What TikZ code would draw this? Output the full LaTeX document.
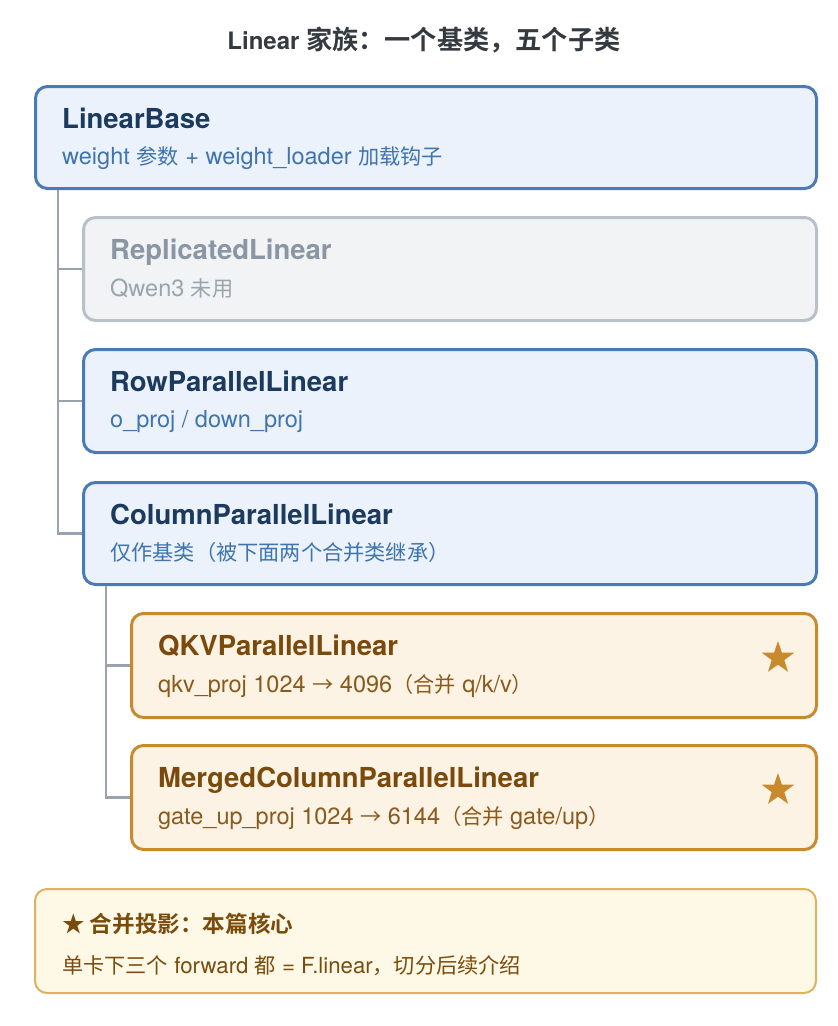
\documentclass[tikz,border=0pt]{standalone}
\usepackage{fontspec}
\setmainfont{TeX Gyre Heros}
\newfontfamily\cjk{Noto Sans CJK SC}[BoldFont={Noto Sans CJK SC Bold}]
\newcommand\zhsz{21.2}
\newcommand\zh[1]{{\cjk\fontsize{\zhsz}{27}\selectfont #1}}
\usetikzlibrary{shapes.geometric}
\definecolor{blueline}{HTML}{4A7BB7}
\definecolor{bluefill}{HTML}{EBF2FB}
\definecolor{bluetitle}{HTML}{1C3A5E}
\definecolor{bluesub}{HTML}{3F74B0}
\definecolor{grayline}{HTML}{B8C0C9}
\definecolor{grayfill}{HTML}{F1F3F5}
\definecolor{graytitle}{HTML}{8A96A3}
\definecolor{graysub}{HTML}{9AA4AE}
\definecolor{orline}{HTML}{C98A2E}
\definecolor{orfill}{HTML}{FDF3E4}
\definecolor{ortitle}{HTML}{7A4A0D}
\definecolor{orsub}{HTML}{8A5A1C}
\definecolor{noteline}{HTML}{DDB35F}
\definecolor{notefill}{HTML}{FEF8E6}
\definecolor{notetext}{HTML}{7A4C0C}
\definecolor{treeline}{HTML}{9AA3AD}
\definecolor{headtext}{HTML}{343A40}
\begin{document}
\begin{tikzpicture}[x=1pt,y=-1pt,
  card/.style={rectangle, rounded corners=12pt, line width=3pt, anchor=north west, inner sep=0pt},
  bluebox/.style={card, draw=blueline, fill=bluefill},
  graybox/.style={card, draw=grayline, fill=grayfill},
  orbox/.style={card, draw=orline, fill=orfill},
  notebox/.style={card, line width=2pt, draw=noteline, fill=notefill},
  ttl/.style={anchor=base west, inner sep=0pt, font=\fontsize{27.5}{32}\selectfont\bfseries},
  sub/.style={anchor=base west, inner sep=0pt, font=\fontsize{23.5}{27}\selectfont},
  tree/.style={draw=treeline, line width=2.5pt},
  starmark/.style={star, star points=5, star point ratio=2.55, fill=orline, minimum size=34pt, inner sep=0pt}
]
\useasboundingbox (0,0) rectangle (838,1026);

\node[anchor=center, inner sep=0pt, text=headtext, font=\fontsize{24}{28}\selectfont\bfseries] (head) at (424,40) {Linear {\cjk\fontsize{26.2}{28}\selectfont 家族：一个基类，五个子类}};

% boxes
\node[bluebox, minimum width=781pt, minimum height=102pt] (lb) at (34,85) {};
\node[graybox, minimum width=733pt, minimum height=103pt] (rep) at (82,216) {};
\node[bluebox, minimum width=733pt, minimum height=103pt] (row) at (82,348) {};
\node[bluebox, minimum width=733pt, minimum height=102pt] (col) at (82,481) {};
\node[orbox, minimum width=685pt, minimum height=104pt] (qkv) at (130,612) {};
\node[orbox, minimum width=685pt, minimum height=104pt] (mer) at (130,744) {};
\node[notebox, minimum width=781pt, minimum height=104pt] (note) at (34,888) {};

% tree connectors
\draw[tree] ([xshift=24pt]lb.south west) |- (rep.west);
\draw[tree] ([xshift=24pt]lb.south west) |- (row.west);
\draw[tree] ([xshift=24pt]lb.south west) |- (col.west);
\draw[tree] ([xshift=24pt]col.south west) |- (qkv.west);
\draw[tree] ([xshift=24pt]col.south west) |- (mer.west);

% texts
\node[ttl, text=bluetitle] (lbt) at (62,128) {LinearBase};
\node[sub, text=bluesub] (lbs) at (62,164) {weight \zh{参数} + weight\_loader \zh{加载钩子}};

\node[ttl, text=graytitle] (rept) at (110,259) {ReplicatedLinear};
\node[sub, text=graysub] (reps) at (110,296) {Qwen3 \zh{未用}};

\node[ttl, text=bluetitle] (rowt) at (110,391) {RowParallelLinear};
\node[sub, text=bluesub] (rows) at (110,427) {o\_proj / down\_proj};

\node[ttl, text=bluetitle] (colt) at (110,524) {ColumnParallelLinear};
\node[sub, text=bluesub] (cols) at (110,560) {\zh{仅作基类（被下面两个合并类继承）}};

\node[ttl, text=ortitle] (qkvt) at (158,655) {QKVParallelLinear};
\node[sub, text=orsub] (qkvs) at (158,692) {qkv\_proj 1024 \zh{→} 4096\zh{（合并} q/k/v\zh{）}};
\node[starmark] (qkvm) at (778,658) {};

\node[ttl, text=ortitle] (mert) at (158,787) {MergedColumnParallelLinear};
\node[sub, text=orsub] (mers) at (158,824) {gate\_up\_proj 1024 \zh{→} 6144\zh{（合并} gate/up\zh{）}};
\node[starmark] (merm) at (778,790) {};

\node[anchor=base west, inner sep=0pt, text=notetext, font=\fontsize{22.6}{27}\selectfont\bfseries] (notet) at (62,932) {\cjk ★ 合并投影：本篇核心};
\node[sub, text=notetext, font=\fontsize{22.2}{27}\selectfont] (notes) at (62,973) {\zh{单卡下三个} forward \zh{都} = F.linear\zh{，切分后续介绍}};
\end{tikzpicture}
\end{document}
